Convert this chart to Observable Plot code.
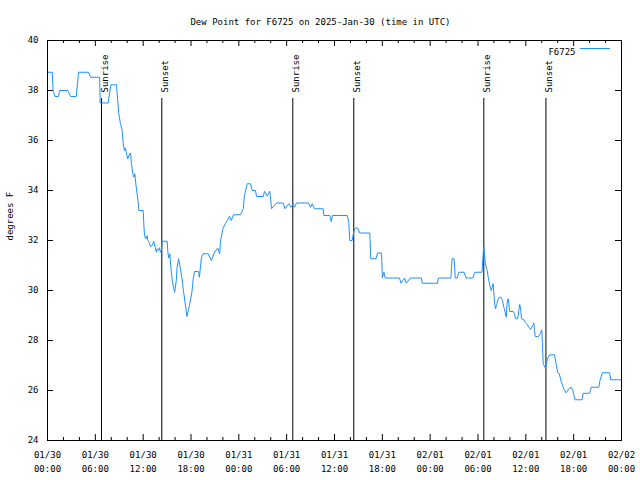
<!DOCTYPE html>
<html>
<head>
<meta charset="utf-8">
<script src="https://cdn.jsdelivr.net/npm/d3@7"></script>
<script src="https://cdn.jsdelivr.net/npm/@observablehq/plot@0.6"></script>
<style>
  html, body { margin: 0; padding: 0; background: #fff; }
</style>
</head>
<body>
<div id="chart"></div>
<script>
// ---- Data (hours since 2025-01-30 00:00 UTC) ----
const chartTitle = "Dew Point for F6725 on 2025-Jan-30 (time in UTC)";
const yAxisLabel = "degrees F";
const seriesName = "F6725";

const hours = [
  0, 0.6, 0.7, 0.95, 1.4, 1.5, 2.55, 2.9, 3.6, 3.9, 5.15, 5.4, 6.55, 6.6, 7.6, 7.95,
  8.66, 8.74, 8.94, 9.16, 9.37, 9.5, 9.66, 9.78, 9.91, 10.07, 10.2, 10.41, 10.54, 10.7, 10.83, 10.95,
  11.13, 11.38, 11.45, 12.0, 12.08, 12.17, 12.33, 12.5, 12.58, 12.76, 12.92, 13.13, 13.33, 13.51, 13.64, 13.76,
  13.92, 14.05, 14.17, 14.3, 14.39, 15.01, 15.1, 15.2, 15.35, 15.45, 15.65, 15.85, 15.95, 16.15, 16.25, 16.45,
  16.85, 17.05, 17.25, 17.5, 17.8, 18.1, 18.3, 18.45, 18.95, 19.05, 19.3, 19.5, 20.15, 20.55, 20.9, 21.35,
  21.6, 21.7, 22.0, 22.3, 22.6, 22.85, 23.05, 23.35, 24.21, 24.55, 24.71, 25.05, 25.46, 25.68, 26.09, 26.22,
  27.06, 27.22, 27.56, 27.89, 28.1, 28.73, 29.57, 29.77, 30.27, 30.57, 30.82, 30.98, 31.23, 32.74, 32.99, 33.2,
  33.49, 34.58, 34.66, 35.41, 35.59, 35.75, 37.59, 37.79, 37.92, 38.22, 38.42, 38.63, 38.92, 39.17, 40.43, 40.55,
  41.2, 41.4, 41.9, 42.0, 42.2, 42.35, 44.15, 44.35, 44.8, 45.0, 45.5, 46.9, 47.0, 48.9, 49.05, 50.6,
  50.75, 51.0, 51.15, 51.4, 51.6, 52.25, 52.5, 53.35, 53.6, 54.5, 54.65, 54.73, 54.8, 54.9, 55.03, 55.15,
  55.28, 55.4, 55.48, 55.66, 55.78, 55.9, 55.98, 56.07, 56.2, 56.32, 56.49, 56.66, 56.91, 57.07, 57.24, 57.41,
  57.54, 57.66, 57.79, 57.92, 57.99, 58.42, 58.58, 58.7, 58.99, 59.12, 59.24, 59.37, 59.46, 59.75, 59.92, 60.17,
  60.37, 60.59, 60.75, 60.88, 61.0, 61.09, 61.18, 61.59, 61.84, 62.0, 62.09, 62.18, 62.3, 62.45, 62.6, 62.75,
  63.0, 63.6, 63.8, 64.0, 64.2, 64.4, 64.75, 65.05, 65.4, 65.7, 65.9, 66.0, 66.15, 67.05, 67.2, 68.0,
  68.2, 69.15, 69.3, 69.6, 70.5, 70.65, 71.9
];

const dewPointF = [
  38.73, 38.73, 38.0, 37.76, 37.76, 38.0, 38.0, 37.76, 37.76, 38.73, 38.73, 38.53, 38.53, 37.5, 37.5, 38.23,
  38.23, 37.87, 37.07, 36.67, 36.4, 35.87, 35.6, 35.7, 35.47, 35.27, 35.4, 35.5, 35.07, 34.67, 34.53, 34.67,
  34.13, 33.53, 33.2, 33.2, 32.67, 32.2, 32.07, 32.2, 32.0, 31.93, 31.76, 31.8, 31.97, 31.73, 31.53, 31.67,
  31.6, 31.71, 31.53, 31.63, 31.97, 31.97, 31.53, 31.3, 31.47, 31.0, 30.4, 30.07, 29.93, 30.4, 30.93, 31.27,
  30.53, 30.0, 29.53, 28.96, 29.4, 29.9, 30.53, 30.76, 30.76, 30.53, 31.3, 31.47, 31.47, 31.2, 31.5, 31.7,
  31.47, 31.97, 32.47, 32.67, 32.83, 32.97, 32.8, 33.03, 33.03, 33.27, 33.8, 34.27, 34.27, 34.0, 34.0, 33.76,
  33.76, 33.97, 33.77, 33.97, 33.27, 33.5, 33.5, 33.27, 33.47, 33.33, 33.47, 33.33, 33.5, 33.5, 33.33, 33.47,
  33.27, 33.27, 33.0, 33.0, 32.76, 33.0, 33.0, 32.73, 32.0, 32.0, 32.37, 32.5, 32.5, 32.3, 32.3, 31.27,
  31.27, 31.5, 31.5, 30.5, 30.73, 30.5, 30.5, 30.29, 30.5, 30.29, 30.5, 30.5, 30.29, 30.29, 30.5, 30.5,
  31.27, 31.27, 30.5, 30.5, 30.73, 30.73, 30.5, 30.5, 30.73, 30.73, 31.47, 31.76, 31.53, 31.13, 30.93, 30.8,
  30.53, 30.33, 30.2, 30.0, 30.13, 30.27, 29.93, 29.53, 29.27, 29.4, 29.6, 29.73, 29.73, 29.6, 29.33, 29.13,
  28.93, 29.53, 29.67, 29.33, 29.16, 29.16, 29.07, 28.87, 28.87, 29.2, 29.44, 29.2, 28.87, 28.83, 28.73, 28.64,
  28.53, 28.44, 28.53, 28.6, 28.71, 28.4, 28.16, 28.16, 28.29, 28.43, 27.8, 27.07, 27.0, 26.9, 27.13, 27.3,
  27.43, 27.43, 27.07, 26.71, 26.67, 26.4, 26.07, 25.91, 26.07, 26.13, 26.0, 25.87, 25.63, 25.63, 25.89, 25.89,
  26.13, 26.13, 26.4, 26.71, 26.71, 26.43, 26.43
];

const eventLabels = ["Sunrise", "Sunset", "Sunrise", "Sunset", "Sunrise", "Sunset"];
const eventHours = [6.77, 14.34, 30.77, 38.42, 54.73, 62.52];

const yTicks = [24, 26, 28, 30, 32, 34, 36, 38, 40];
const xMajorHours = [0, 6, 12, 18, 24, 30, 36, 42, 48, 54, 60, 66, 72];
const xMinorHours = [2, 4, 8, 10, 14, 16, 20, 22, 26, 28, 32, 34, 38, 40, 44, 46, 50, 52, 56, 58, 62, 64, 68, 70];

// ---- Build ----
const startUTC = Date.UTC(2025, 0, 30);
const toDate = h => new Date(startUTC + h * 3600e3);
const series = hours.map((h, i) => ({t: toDate(h), v: dewPointF[i]}));
const events = eventHours.map((h, i) => ({t: toDate(h), label: eventLabels[i]}));
const xMajor = xMajorHours.map(toDate);
const xMinor = xMinorHours.map(toDate);

const W = 640, H = 480, mL = 47, mR = 19, mT = 40, mB = 40;
const frameH = H - mT - mB, frameW = W - mL - mR;
const lineColor = "#1e90ff";
const font = "'DejaVu Sans Mono', 'Liberation Mono', monospace";

const chart = Plot.plot({
  width: W, height: H,
  marginLeft: mL, marginRight: mR, marginTop: mT, marginBottom: mB,
  style: {fontFamily: font, fontSize: "9px", background: "#fff", color: "#000", overflow: "visible"},
  x: {type: "utc", domain: [toDate(0), toDate(72)]},
  y: {domain: [24, 40]},
  marks: [
    // inward ticks (bottom & top)
    Plot.ruleX(xMinor, {insetTop: frameH - 3, stroke: "#000"}),
    Plot.ruleX(xMinor, {insetBottom: frameH - 3, stroke: "#000"}),
    Plot.ruleX(xMajor, {insetTop: frameH - 6, stroke: "#000"}),
    Plot.ruleX(xMajor, {insetBottom: frameH - 6, stroke: "#000"}),
    // inward ticks (left & right)
    Plot.ruleY(yTicks, {insetRight: frameW - 6, stroke: "#000"}),
    Plot.ruleY(yTicks, {insetLeft: frameW - 6, stroke: "#000"}),
    Plot.axisX({ticks: xMajor, tickSize: 0, tickPadding: 8, label: null, lineHeight: 1.55,
      tickFormat: d3.utcFormat("%m/%d\n%H:%M")}),
    Plot.axisY({ticks: yTicks, tickSize: 0, tickPadding: 9, label: null}),
    // sunrise / sunset
    Plot.ruleX(events, {x: "t", insetTop: 58, stroke: "#000"}),
    Plot.text(events, {x: "t", text: "label", frameAnchor: "top", dy: 52, rotate: -90, textAnchor: "start", fill: "#000"}),
    // data
    Plot.line(series, {x: "t", y: "v", stroke: lineColor, strokeWidth: 1}),
    Plot.frame({stroke: "#000"}),
    // titles and legend text
    Plot.text([chartTitle], {frameAnchor: "top", dx: -14, dy: -22, fill: "#000"}),
    Plot.text([yAxisLabel], {frameAnchor: "left", dx: -37, rotate: -90, fill: "#000"}),
    Plot.text([seriesName], {frameAnchor: "top-right", dx: -46, dy: 8, textAnchor: "end", fill: "#000"})
  ]
});

// legend sample line
d3.select(chart).append("line")
  .attr("x1", W - mR - 41).attr("x2", W - mR - 11)
  .attr("y1", mT + 8.5).attr("y2", mT + 8.5)
  .attr("stroke", lineColor).attr("stroke-width", 1);

document.getElementById("chart").appendChild(chart);
</script>
</body>
</html>
